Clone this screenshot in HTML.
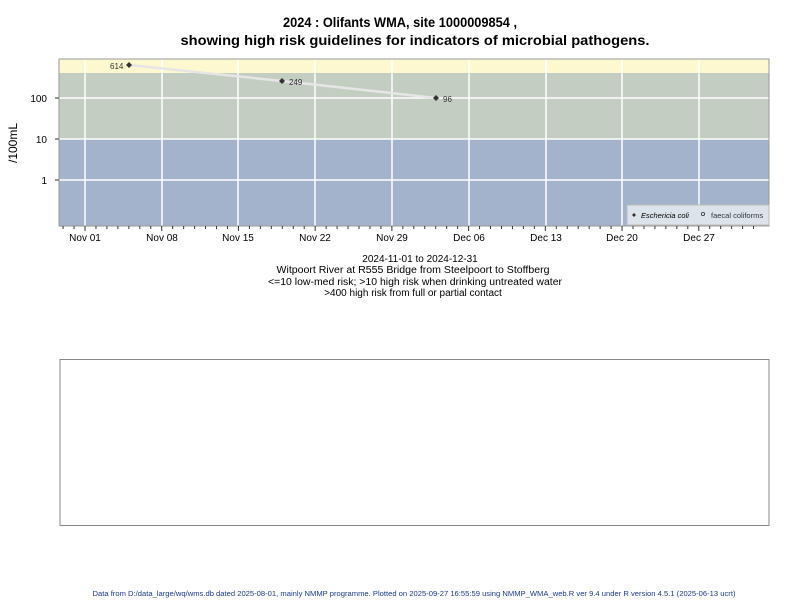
<!DOCTYPE html><html><head><style>body{margin:0;background:#fff}svg{font-family:"Liberation Sans",sans-serif}</style></head><body>
<svg width="800" height="600" xmlns="http://www.w3.org/2000/svg">
<text x="400" y="27" text-anchor="middle" font-size="14" font-weight="bold" textLength="234" lengthAdjust="spacingAndGlyphs">2024 : Olifants WMA, site 1000009854 ,</text>
<text x="415" y="45" text-anchor="middle" font-size="14" font-weight="bold" textLength="469" lengthAdjust="spacingAndGlyphs">showing high risk guidelines for indicators of microbial pathogens.</text>
<rect x="59" y="59" width="710" height="14" fill="#fdf8cf"/>
<rect x="59" y="73" width="710" height="66" fill="#c3cdc1"/>
<rect x="59" y="139" width="710" height="87" fill="#a2b3cb"/>
<g stroke="#fff" stroke-width="1.5">
<line x1="85" y1="59" x2="85" y2="226"/><line x1="162" y1="59" x2="162" y2="226"/><line x1="238" y1="59" x2="238" y2="226"/><line x1="315" y1="59" x2="315" y2="226"/><line x1="392" y1="59" x2="392" y2="226"/><line x1="469" y1="59" x2="469" y2="226"/><line x1="546" y1="59" x2="546" y2="226"/><line x1="622" y1="59" x2="622" y2="226"/><line x1="699" y1="59" x2="699" y2="226"/>
<line x1="59" y1="98" x2="769" y2="98"/><line x1="59" y1="139" x2="769" y2="139"/><line x1="59" y1="180" x2="769" y2="180"/>
</g>
<rect x="59" y="59" width="710" height="167" fill="none" stroke="#999"/>
<polyline points="129,65 282,81 436,98" fill="none" stroke="#e6e6e6" stroke-width="2.5"/>
<g fill="#333"><path d="M129,62 l3,3 l-3,3 l-3,-3z"/><path d="M282,78 l3,3 l-3,3 l-3,-3z"/><path d="M436,95 l3,3 l-3,3 l-3,-3z"/></g>
<g font-size="8" fill="#333"><text x="110" y="69">614</text><text x="289" y="85">249</text><text x="443" y="102">96</text></g>
<g stroke="#333"><line x1="55" y1="98" x2="59" y2="98"/><line x1="55" y1="139" x2="59" y2="139"/><line x1="55" y1="180" x2="59" y2="180"/></g>
<g font-size="10" text-anchor="end"><text x="47" y="102">100</text><text x="47" y="143">10</text><text x="47" y="184">1</text></g>
<text transform="translate(17,143) rotate(-90)" text-anchor="middle" font-size="12">/100mL</text>
<g stroke="#333" id="t"></g>
<g font-size="10" text-anchor="middle"><text x="85" y="241">Nov 01</text><text x="162" y="241">Nov 08</text><text x="238" y="241">Nov 15</text><text x="315" y="241">Nov 22</text><text x="392" y="241">Nov 29</text><text x="469" y="241">Dec 06</text><text x="546" y="241">Dec 13</text><text x="622" y="241">Dec 20</text><text x="699" y="241">Dec 27</text></g>
<rect x="627" y="205" width="142" height="20" fill="#dde3ea" stroke="#bbb"/>
<path d="M634,213 l2,2 l-2,2 l-2,-2z" fill="#333"/><text x="641" y="218" font-size="7.5" font-style="italic">Eschericia coli</text>
<circle cx="703" cy="214" r="1.6" fill="none" stroke="#333" stroke-width="0.8"/><text x="711" y="218" font-size="7.5" fill="#334">faecal coliforms</text>
<g font-size="10" text-anchor="middle"><text x="420" y="262">2024-11-01 to 2024-12-31</text><text x="413" y="273" textLength="273" lengthAdjust="spacingAndGlyphs">Witpoort River at R555 Bridge from Steelpoort to Stoffberg</text><text x="415" y="285" textLength="294" lengthAdjust="spacingAndGlyphs">&lt;=10 low-med risk; &gt;10 high risk when drinking untreated water</text><text x="413" y="296">&gt;400 high risk from full or partial contact</text></g>
<rect x="60" y="359.5" width="709" height="166" fill="none" stroke="#888"/>
<text x="414" y="596" text-anchor="middle" font-size="7" fill="#1a3a8a" textLength="643" lengthAdjust="spacingAndGlyphs">Data from D:/data_large/wq/wms.db dated 2025-08-01, mainly NMMP programme. Plotted on 2025-09-27 16:55:59 using NMMP_WMA_web.R ver 9.4 under R version 4.5.1 (2025-06-13 ucrt)</text>
</svg>
<script>
var g=document.getElementById('t'),s='';for(var i=-2;i<62;i++){var x=85+i*10.96;if(x<60||x>768)continue;var m=(i%7==0);s+='<line x1="'+x+'" y1="226" x2="'+x+'" y2="'+(m?231:229)+'"/>';}g.innerHTML=s;
</script>
</body></html>
